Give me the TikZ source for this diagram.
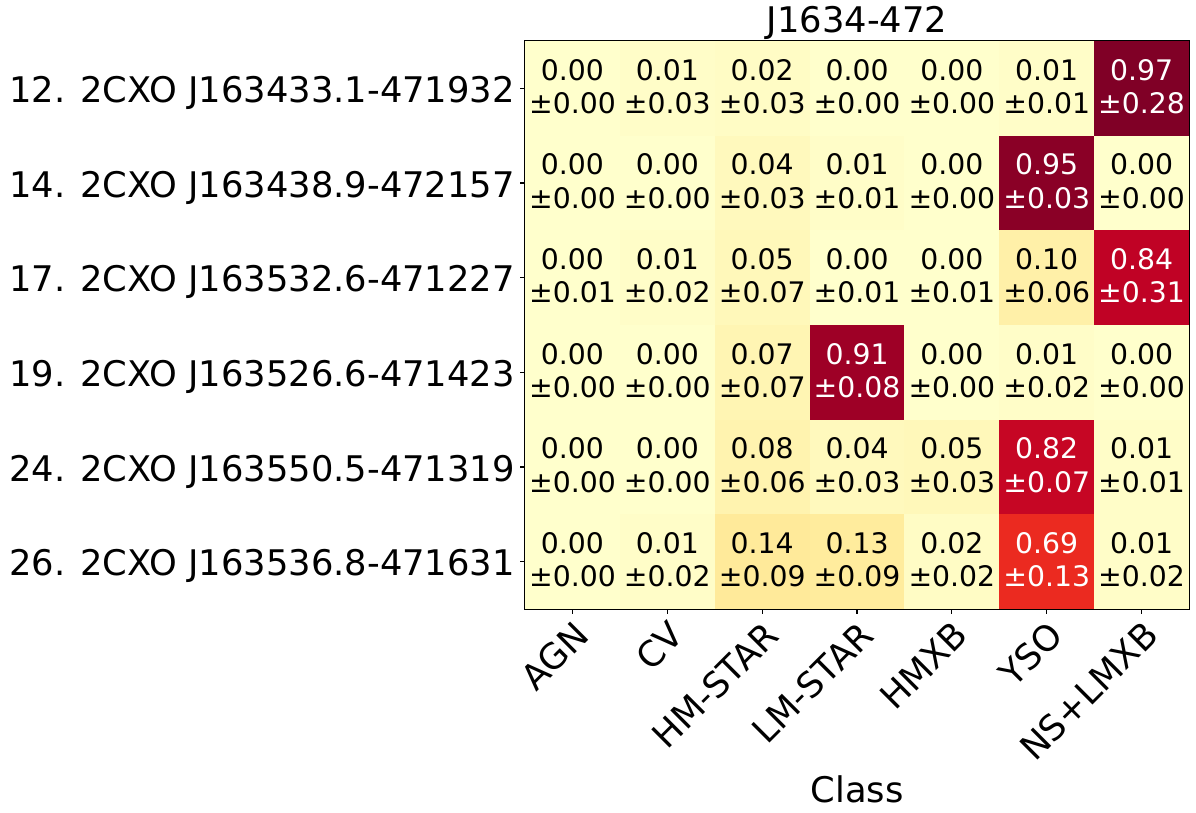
\documentclass[tikz,border=0pt]{standalone}
\usepackage{fontspec}
\setmainfont{DejaVu Sans}
\usetikzlibrary{positioning}

% YlOrRd levels
\definecolor{v000}{RGB}{255,255,204}
\definecolor{v001}{RGB}{255,253,200}
\definecolor{v002}{RGB}{255,252,197}
\definecolor{v004}{RGB}{255,249,189}
\definecolor{v005}{RGB}{255,248,186}
\definecolor{v007}{RGB}{255,245,179}
\definecolor{v008}{RGB}{255,243,175}
\definecolor{v010}{RGB}{255,240,168}
\definecolor{v013}{RGB}{255,236,157}
\definecolor{v014}{RGB}{255,234,154}
\definecolor{v069}{RGB}{235,42,32}
\definecolor{v082}{RGB}{198,6,36}
\definecolor{v084}{RGB}{192,2,37}
\definecolor{v091}{RGB}{158,0,38}
\definecolor{v095}{RGB}{138,0,38}
\definecolor{v097}{RGB}{128,0,38}

\tikzset{
  cell/.style={minimum width=94.86pt, minimum height=94.67pt, inner sep=0pt,
    align=center, text depth=3.8pt, font=\fontsize{28.3}{33.3}\selectfont},
  frame/.style={draw=black, line width=1.1pt},
  tick/.style={draw=black, line width=1.1pt},
  rowlab/.style={anchor=base east, inner sep=0pt, font=\fontsize{35.3}{42}\selectfont},
  collab/.style={anchor=north east, rotate=45, inner sep=0pt, font=\fontsize{35.3}{42}\selectfont},
  axlab/.style={anchor=base, inner sep=0pt, font=\fontsize{35.3}{42}\selectfont}
}

\begin{document}
\begin{tikzpicture}[x=1pt,y=-1pt]
  \useasboundingbox (0,0) rectangle (1196,813);
  % heat map cells
  \foreach \r/\c/\v/\e/\fc/\tc in {
      0/0/0.00/0.00/v000/black, 0/1/0.01/0.03/v001/black, 0/2/0.02/0.03/v002/black,
      0/3/0.00/0.00/v000/black, 0/4/0.00/0.00/v000/black, 0/5/0.01/0.01/v001/black,
      0/6/0.97/0.28/v097/white,
      1/0/0.00/0.00/v000/black, 1/1/0.00/0.00/v000/black, 1/2/0.04/0.03/v004/black,
      1/3/0.01/0.01/v001/black, 1/4/0.00/0.00/v000/black, 1/5/0.95/0.03/v095/white,
      1/6/0.00/0.00/v000/black,
      2/0/0.00/0.01/v000/black, 2/1/0.01/0.02/v001/black, 2/2/0.05/0.07/v005/black,
      2/3/0.00/0.01/v000/black, 2/4/0.00/0.01/v000/black, 2/5/0.10/0.06/v010/black,
      2/6/0.84/0.31/v084/white,
      3/0/0.00/0.00/v000/black, 3/1/0.00/0.00/v000/black, 3/2/0.07/0.07/v007/black,
      3/3/0.91/0.08/v091/white, 3/4/0.00/0.00/v000/black, 3/5/0.01/0.02/v001/black,
      3/6/0.00/0.00/v000/black,
      4/0/0.00/0.00/v000/black, 4/1/0.00/0.00/v000/black, 4/2/0.08/0.06/v008/black,
      4/3/0.04/0.03/v004/black, 4/4/0.05/0.03/v005/black, 4/5/0.82/0.07/v082/white,
      4/6/0.01/0.01/v001/black,
      5/0/0.00/0.00/v000/black, 5/1/0.01/0.02/v001/black, 5/2/0.14/0.09/v014/black,
      5/3/0.13/0.09/v013/black, 5/4/0.02/0.02/v002/black, 5/5/0.69/0.13/v069/white,
      5/6/0.01/0.02/v001/black}
    \node[cell, fill=\fc, text=\tc] (cell-\r-\c) at ({572.43+94.86*\c},{88.34+94.67*\r}) {\v\\±\e};
  \draw[frame] (cell-0-0.north west) rectangle (cell-5-6.south east);
  % class ticks
  \foreach \c/\name in {0/AGN,1/CV,2/HM-STAR,3/LM-STAR,4/HMXB,5/YSO,6/NS+LMXB} {
    \draw[tick] (cell-5-\c.south) -- ++(0,4.86) coordinate (xt\c);
    \node[collab] (col-\c) at ([yshift=-4.86pt]xt\c) {\name};
  }
  % source ticks
  \foreach \r/\name in {0/12. 2CXO J163433.1-471932, 1/14. 2CXO J163438.9-472157,
      2/17. 2CXO J163532.6-471227, 3/19. 2CXO J163526.6-471423,
      4/24. 2CXO J163550.5-471319, 5/26. 2CXO J163536.8-471631} {
    \draw[tick] (cell-\r-0.west) -- ++(-4.86,0) coordinate (yt\r);
    \node[rowlab] (row-\r) at ([xshift=-4.86pt,yshift=-14pt]yt\r) {\name};
  }
  \node[axlab] (title) at ([yshift=8.3pt]cell-0-3.north) {J1634-472};
  \node[axlab] (xlabel) at (857,802) {Class};
\end{tikzpicture}
\end{document}
